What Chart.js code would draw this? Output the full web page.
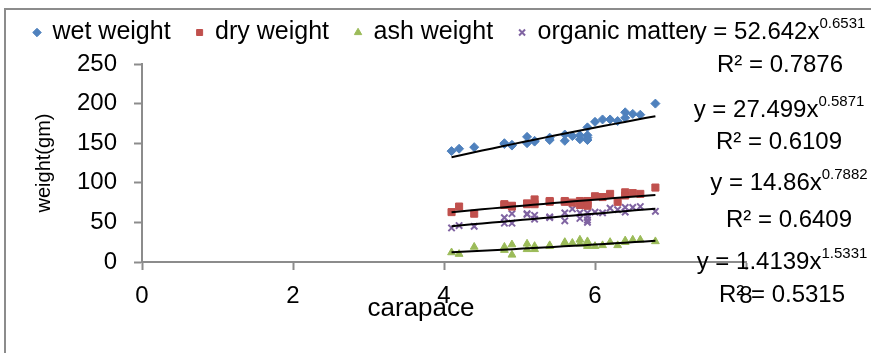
<!DOCTYPE html>
<html>
<head>
<meta charset="utf-8">
<script src="https://cdn.jsdelivr.net/npm/chart.js@4"></script>
<style>
  html, body { margin: 0; padding: 0; background: #fff; }
  #wrap { width: 871px; height: 353px; }
</style>
</head>
<body>
<div id="wrap"><canvas id="chart" width="871" height="353"></canvas></div>
<script>
// carapace length (x) shared by all four series
const carapace = [4.1, 4.2, 4.4, 4.8, 4.8, 4.9, 4.9, 5.1, 5.1, 5.2, 5.2, 5.4, 5.4, 5.6, 5.6, 5.7,
  5.8, 5.8, 5.9, 5.9, 5.9, 5.9, 6.0, 6.1, 6.2, 6.3, 6.4, 6.4, 6.5, 6.6, 6.8];
const wetWeight = [140, 143, 145, 150, 149, 148, 147, 158, 150, 153, 152, 157, 154, 161, 153, 159,
  160, 155, 170, 160, 157, 154, 177, 180, 180, 178, 189, 182, 187, 186, 200];
const dryWeight = [63, 70, 61, 73, 72, 71, 70, 74, 73, 79, 73, 77, 76, 77, 76, 75,
  77, 72, 77, 74, 72, 71, 83, 82, 86, 76, 88, 84, 87, 86, 94];
const ashWeight = [12, 10, 19, 19, 15, 22, 9, 23, 16, 20, 16, 21, 20, 25, 24, 24,
  28, 23, 26, 24, 22, 20, 20, 21, 25, 21, 27, 25, 28, 28, 26];
const organicMatter = [43, 46, 45, 56, 49, 61, 49, 61, 60, 59, 54, 57, 56, 62, 52, 67,
  62, 55, 62, 57, 53, 50, 63, 62, 68, 66, 69, 63, 69, 70, 64];

const seriesNames = ["wet weight", "dry weight", "ash weight", "organic matter"];
// power trendlines y = a * x^b, as printed on the chart
const fitA = [52.642, 27.499, 1.4139, 14.86];
const fitB = [0.6531, 0.5871, 1.5331, 0.7882];
const fitR2 = ["0.7876", "0.6109", "0.5315", "0.6409"];

const xTicks = [0, 2, 4, 6, 8];
const yTicks = [0, 50, 100, 150, 200, 250];

const colors = ["#4F81BD", "#C0504D", "#9BBB59", "#8064A2"];
const markers = ["rectRot", "rect", "triangle", "crossRot"];
const markerSize = [4.5, 5, 4.5, 4.5];
// where excel left the trendline labels: center x, equation y, R² y
const labelPos = [[780, 32, 65], [779, 110, 142], [782, 262, 295], [789, 183, 220]];

const FONT = "'Liberation Sans', Arial, sans-serif";
const axisGray = "#8c8c8c";

const values = [wetWeight, dryWeight, ashWeight, organicMatter];

const pointSets = values.map((ys, i) => ({
  label: seriesNames[i],
  data: carapace.map((x, j) => ({ x: x, y: ys[j] })),
  backgroundColor: colors[i],
  borderColor: colors[i],
  borderWidth: markers[i] === "crossRot" ? 2 : 1,
  pointStyle: markers[i],
  pointRadius: markerSize[i],
  showLine: false,
  order: i + 1
}));

// trendline drawn over the data range
const xMin = Math.min(...carapace);
const xMax = Math.max(...carapace);
const trendSets = fitA.map((a, i) => {
  const pts = [];
  for (let k = 0; k <= 20; k++) {
    const x = xMin + (xMax - xMin) * k / 20;
    pts.push({ x: x, y: a * Math.pow(x, fitB[i]) });
  }
  return {
    type: "line",
    label: "trend",
    data: pts,
    borderColor: "#000",
    borderWidth: 2,
    pointRadius: 0,
    fill: false,
    order: 0
  };
});

const extras = {
  id: "extras",
  beforeInit(chart) {
    // leave room between legend and plot like the excel chart
    const fit = chart.legend.fit;
    chart.legend.fit = function () {
      fit.call(this);
      this.height += 9;
    };
  },
  beforeDraw(chart) {
    const ctx = chart.ctx;
    ctx.save();
    ctx.strokeStyle = axisGray;
    ctx.lineWidth = 2;
    ctx.strokeRect(5, 9, chart.width + 20, chart.height + 20);
    ctx.restore();
  },
  afterDraw(chart) {
    const ctx = chart.ctx;
    ctx.save();
    ctx.fillStyle = "#000";
    ctx.textBaseline = "middle";
    labelPos.forEach((p, i) => {
      const main = "y = " + fitA[i] + "x";
      const sup = String(fitB[i]);
      ctx.font = "24px " + FONT;
      const w1 = ctx.measureText(main).width;
      ctx.font = "15px " + FONT;
      const w2 = ctx.measureText(sup).width;
      const left = p[0] - (w1 + w2) / 2;
      ctx.textAlign = "left";
      ctx.font = "24px " + FONT;
      ctx.fillText(main, left, p[1]);
      ctx.font = "15px " + FONT;
      ctx.fillText(sup, left + w1, p[1] - 8);
      ctx.font = "24px " + FONT;
      ctx.textAlign = "center";
      ctx.fillText("R² = " + fitR2[i], p[0], p[2]);
    });
    ctx.font = "26px " + FONT;
    ctx.textAlign = "center";
    ctx.textBaseline = "alphabetic";
    ctx.fillText("carapace", 421, 316);
    ctx.restore();
  }
};

new Chart(document.getElementById("chart"), {
  type: "scatter",
  data: { datasets: pointSets.concat(trendSets) },
  options: {
    responsive: false,
    animation: false,
    layout: { padding: { top: -6, left: 8, right: 125, bottom: 0 } },
    plugins: {
      tooltip: { enabled: false },
      legend: {
        position: "top",
        align: "start",
        labels: {
          usePointStyle: true,
          boxWidth: 6,
          boxHeight: 6,
          padding: 26,
          color: "#000",
          font: { family: FONT, size: 25 },
          filter: (item) => item.text !== "trend"
        }
      }
    },
    scales: {
      x: {
        type: "linear",
        min: xTicks[0],
        max: xTicks[xTicks.length - 1],
        afterBuildTicks: (s) => { s.ticks = xTicks.map(v => ({ value: v })); },
        ticks: { color: "#000", font: { family: FONT, size: 24 }, padding: 12 },
        grid: { drawOnChartArea: false, tickLength: 8, tickColor: axisGray, tickWidth: 2 },
        border: { color: axisGray, width: 2 },
        afterFit: (s) => { s.height = 91; }
      },
      y: {
        min: yTicks[0],
        max: yTicks[yTicks.length - 1],
        afterBuildTicks: (s) => { s.ticks = yTicks.map(v => ({ value: v })); },
        ticks: { color: "#000", font: { family: FONT, size: 24 }, padding: 17 },
        grid: { drawOnChartArea: false, tickLength: 8, tickColor: axisGray, tickWidth: 2 },
        border: { color: axisGray, width: 2 },
        title: {
          display: true,
          text: "weight(gm)",
          color: "#000",
          font: { family: FONT, size: 20 },
          padding: { top: 24, bottom: 0 }
        },
        afterFit: (s) => { s.width = 134; }
      }
    }
  },
  plugins: [extras]
});
</script>
</body>
</html>
